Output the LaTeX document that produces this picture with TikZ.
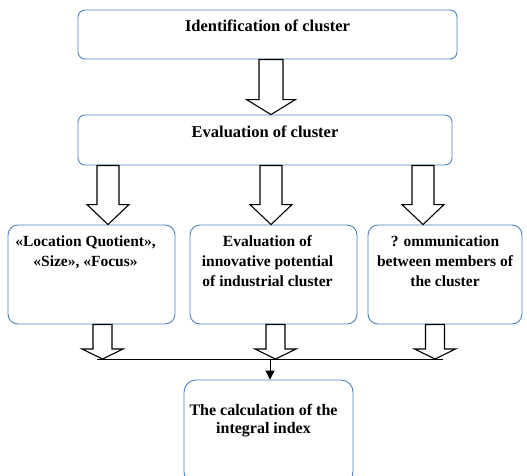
\documentclass[tikz,border=0pt]{standalone}
\usepackage{fontspec}
\setmainfont{Liberation Serif}
\usetikzlibrary{positioning, calc, arrows.meta}
\definecolor{boxblue}{RGB}{79,129,189}
\tikzset{
    box/.style = {
        draw=boxblue,
        line width=0.9pt,
        rounded corners=7pt,
        inner sep=0pt
    },
    boxtext/.style = {
        anchor=north,
        align=center,
        inner sep=0pt,
        font=\bfseries\fontsize{15.5}{20}\selectfont
    },
    blockarr/.style = {
        draw,
        line width=1.1pt,
        fill=white,
        line join=miter
    }
}
% hollow block arrow: x and top from #1, tip height from #2
\newcommand{\blockarrow}[5]{%
    \draw[blockarr] let \p1=(#1), \p2=(#2) in
        (\x1-#3,\y1) -- (\x1-#3,\y2+#5) -- (\x1-#4,\y2+#5) -- (\x1,\y2)
        -- (\x1+#4,\y2+#5) -- (\x1+#3,\y2+#5) -- (\x1+#3,\y1) -- cycle;
}

\begin{document}
\begin{tikzpicture}[x=1pt, y=-1pt]
    \clip (0,0) rectangle (527,475);
    \fill[white] (0,0) rectangle (527,475);

    % boxes
    \node[box, minimum width=379pt, minimum height=49pt] (ident) at (267.5,34.5) {};
    \node[box, minimum width=374pt, minimum height=50pt] (eval) at (265,140) {};
    \node[box, rounded corners=10pt, minimum width=167pt, minimum height=99pt] (lq) at (91.5,274.5) {};
    \node[box, rounded corners=10pt, minimum width=167pt, minimum height=99pt] (innov) at (273.5,274.5) {};
    \node[box, rounded corners=10pt, minimum width=154pt, minimum height=99pt] (comm) at (445,274.5) {};
    \node[box, rounded corners=12pt, minimum width=169pt, minimum height=104pt] (index) at (268.5,432) {};

    % texts
    \node[boxtext, font=\bfseries\fontsize{16.5}{20}\selectfont] (identtext) at ([yshift=-10pt]ident.north) {Identification of cluster};
    \node[boxtext, font=\bfseries\fontsize{16.5}{20}\selectfont] (evaltext) at ([yshift=-11pt]eval.north) {Evaluation of cluster};
    \node[boxtext] (lqtext) at ([xshift=-6pt, yshift=-11pt]lq.north) {«Location Quotient»,\\«Size», «Focus»};
    \node[boxtext] (innovtext) at ([xshift=-6pt, yshift=-11pt]innov.north) {Evaluation of\\innovative potential\\of industrial cluster};
    \node[boxtext] (commtext) at ([yshift=-11pt]comm.north) {? ommunication\\between members of\\the cluster};
    \node[boxtext, font=\bfseries\fontsize{16}{18}\selectfont] (indextext) at ([xshift=-5pt, yshift=-24pt]index.north) {The calculation of the\\integral index};

    % block arrows
    \blockarrow{[xshift=3.5pt]ident.south}{eval.north}{12pt}{24.5pt}{15pt}
    \foreach \dx/\target in {-157/lq, 6/innov, 158/comm}{
        \blockarrow{[xshift=\dx pt]eval.south}{\target.north}{11pt}{21pt}{20pt}
    }
    \coordinate (join) at (270,359);
    \coordinate (lineL) at (97,359);
    \coordinate (lineR) at (443,359);
    \foreach \src/\dx in {lq/11, innov/2, comm/-10}{
        \blockarrow{[xshift=\dx pt]\src.south}{join}{9.5pt}{20.5pt}{10pt}
    }
    \draw[line width=1pt] (lineL) -- (lineR);
    \draw[line width=1pt, -{Triangle[length=9pt, width=9pt]}] (join) -- (join |- index.north);
\end{tikzpicture}
\end{document}
